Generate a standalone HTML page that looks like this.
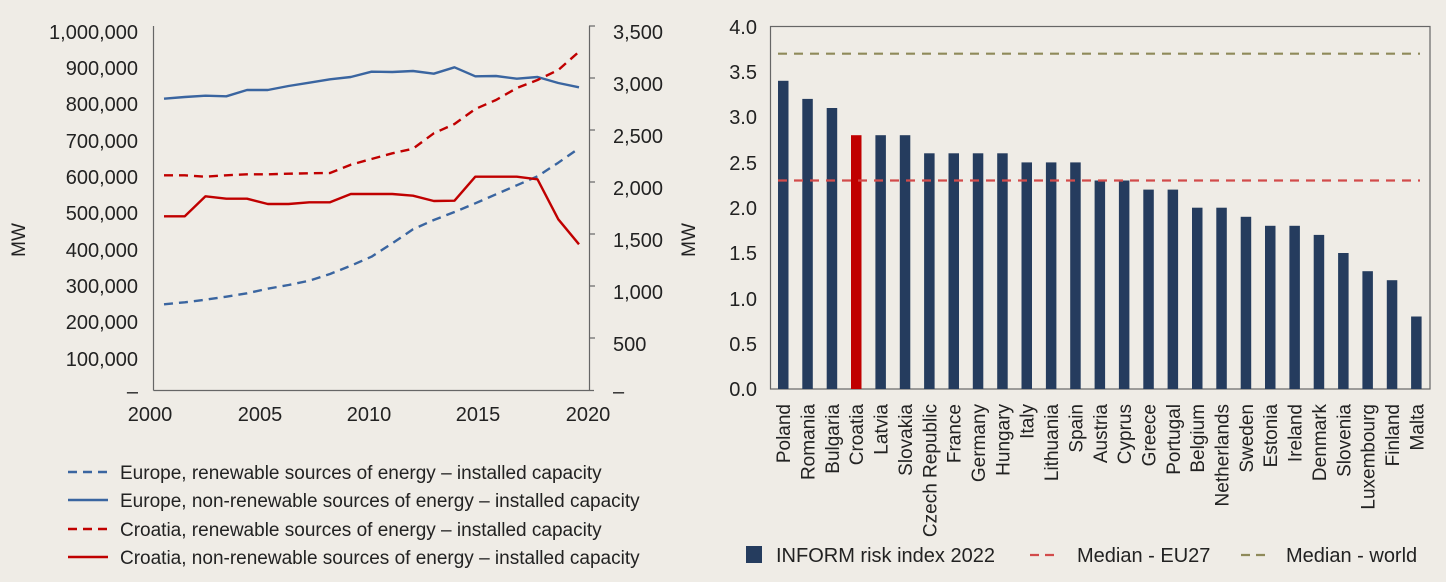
<!DOCTYPE html>
<html><head><meta charset="utf-8"><style>
html,body{margin:0;padding:0;background:#efece6;}
svg{display:block;font-family:"Liberation Sans Narrow","Liberation Sans",sans-serif;}
</style></head><body>
<svg width="1446" height="582" viewBox="0 0 1446 582" xmlns="http://www.w3.org/2000/svg">
<rect width="1446" height="582" fill="#efece6"/>
<!-- LEFT CHART -->
<g stroke="#666" stroke-width="1.2" fill="none">
<line x1="153.5" y1="26" x2="153.5" y2="390.5"/>
<line x1="153.5" y1="390.5" x2="594" y2="390.5"/>
<line x1="589.5" y1="26" x2="589.5" y2="390.5"/>
<line x1="589" y1="26" x2="595" y2="26"/><line x1="589" y1="78" x2="595" y2="78"/><line x1="589" y1="130" x2="595" y2="130"/><line x1="589" y1="182" x2="595" y2="182"/><line x1="589" y1="234" x2="595" y2="234"/><line x1="589" y1="286" x2="595" y2="286"/><line x1="589" y1="338" x2="595" y2="338"/>
</g>
<g font-size="20" fill="#222" text-anchor="end">
<text x="138" y="39">1,000,000</text><text x="138" y="75">900,000</text><text x="138" y="111">800,000</text><text x="138" y="148">700,000</text><text x="138" y="184">600,000</text><text x="138" y="220">500,000</text><text x="138" y="257">400,000</text><text x="138" y="293">300,000</text><text x="138" y="329">200,000</text><text x="138" y="366">100,000</text><text x="138" y="398">–</text>
</g>
<g font-size="20" fill="#222">
<text x="613" y="39">3,500</text><text x="613" y="91">3,000</text><text x="613" y="143">2,500</text><text x="613" y="195">2,000</text><text x="613" y="247">1,500</text><text x="613" y="299">1,000</text><text x="613" y="351">500</text><text x="613" y="398">–</text>
</g>
<g font-size="20" fill="#222" text-anchor="middle">
<text x="150" y="421">2000</text><text x="260" y="421">2005</text><text x="369" y="421">2010</text><text x="478" y="421">2015</text><text x="588" y="421">2020</text>
</g>
<text transform="translate(25,240) rotate(-90)" font-size="19" fill="#222" text-anchor="middle">MW</text>
<text transform="translate(695,240) rotate(-90)" font-size="19" fill="#222" text-anchor="middle">MW</text>
<g fill="none" stroke-width="2.4" stroke-linejoin="round">
<polyline stroke="#3a65a0" points="164,98.7 184.8,97 205.5,95.7 226.3,96.3 247,90 267.8,90 288.5,86 309.3,82.7 330,79.3 350.8,77 371.5,71.7 392.3,72 413,71 433.8,73.7 454.5,67.3 475.3,76.3 496,76 516.8,78.7 537.5,77 558.3,83 579,87.3"/>
<polyline stroke="#3a65a0" stroke-dasharray="9,6" points="164,304.3 184.8,302.3 205.5,299.7 226.3,296.7 247,293.3 267.8,288.7 288.5,285 309.3,280.7 330,274 350.8,265.7 371.5,256.7 392.3,243.3 413,229.3 433.8,220 454.5,212 475.3,203.3 496,194.3 516.8,185.3 537.5,176.3 558.3,162.7 579,148.3"/>
<polyline stroke="#c00000" points="164,216.3 184.8,216.3 205.5,196.3 226.3,198.7 247,198.7 267.8,204 288.5,204 309.3,202.3 330,202.3 350.8,194 371.5,194 392.3,194 413,195.7 433.8,201 454.5,200.7 475.3,176.7 496,176.7 516.8,176.7 537.5,179.3 558.3,219.3 579,244.3"/>
<polyline stroke="#c00000" stroke-dasharray="9,6" points="164,175.3 184.8,175.3 205.5,176.7 226.3,175.3 247,174.3 267.8,174.3 288.5,173.7 309.3,173.3 330,173 350.8,164.7 371.5,159 392.3,153.3 413,148.7 433.8,133.3 454.5,124 475.3,109 496,100 516.8,88 537.5,80 558.3,70 579,51.7"/>
</g>
<!-- left legend -->
<g stroke-width="2.4" fill="none">
<line x1="68" y1="472" x2="108" y2="472" stroke="#3a65a0" stroke-dasharray="9,6"/>
<line x1="68" y1="500" x2="108" y2="500" stroke="#3a65a0"/>
<line x1="68" y1="529" x2="108" y2="529" stroke="#c00000" stroke-dasharray="9,6"/>
<line x1="68" y1="557" x2="108" y2="557" stroke="#c00000"/>
</g>
<g font-size="19" fill="#222">
<text x="120" y="479">Europe, renewable sources of energy – installed capacity</text>
<text x="120" y="507">Europe, non-renewable sources of energy – installed capacity</text>
<text x="120" y="536">Croatia, renewable sources of energy – installed capacity</text>
<text x="120" y="564">Croatia, non-renewable sources of energy – installed capacity</text>
</g>
<!-- RIGHT CHART -->
<rect x="770.5" y="26.5" width="659.5" height="362.5" fill="none" stroke="#666" stroke-width="1.2"/>
<g font-size="20" fill="#222" text-anchor="end">
<text x="757" y="34">4.0</text><text x="757" y="79">3.5</text><text x="757" y="124">3.0</text><text x="757" y="170">2.5</text><text x="757" y="215">2.0</text><text x="757" y="260">1.5</text><text x="757" y="306">1.0</text><text x="757" y="351">0.5</text><text x="757" y="396">0.0</text>
</g>
<g fill="#253c5e">
<rect x="778" y="80.8" width="10.5" height="308.2"/>
<rect x="802.3" y="98.9" width="10.5" height="290.1"/>
<rect x="826.7" y="108" width="10.5" height="281"/>
<rect x="851" y="135.2" width="10.5" height="253.8" fill="#c00000"/>
<rect x="875.4" y="135.2" width="10.5" height="253.8"/>
<rect x="899.8" y="135.2" width="10.5" height="253.8"/>
<rect x="924.1" y="153.3" width="10.5" height="235.7"/>
<rect x="948.5" y="153.3" width="10.5" height="235.7"/>
<rect x="972.8" y="153.3" width="10.5" height="235.7"/>
<rect x="997.2" y="153.3" width="10.5" height="235.7"/>
<rect x="1021.5" y="162.4" width="10.5" height="226.6"/>
<rect x="1045.9" y="162.4" width="10.5" height="226.6"/>
<rect x="1070.2" y="162.4" width="10.5" height="226.6"/>
<rect x="1094.6" y="180.5" width="10.5" height="208.5"/>
<rect x="1118.9" y="180.5" width="10.5" height="208.5"/>
<rect x="1143.3" y="189.6" width="10.5" height="199.4"/>
<rect x="1167.6" y="189.6" width="10.5" height="199.4"/>
<rect x="1192" y="207.7" width="10.5" height="181.3"/>
<rect x="1216.3" y="207.7" width="10.5" height="181.3"/>
<rect x="1240.7" y="216.8" width="10.5" height="172.2"/>
<rect x="1265" y="225.8" width="10.5" height="163.2"/>
<rect x="1289.4" y="225.8" width="10.5" height="163.2"/>
<rect x="1313.7" y="234.9" width="10.5" height="154.1"/>
<rect x="1338.1" y="253" width="10.5" height="136"/>
<rect x="1362.4" y="271.2" width="10.5" height="117.8"/>
<rect x="1386.8" y="280.2" width="10.5" height="108.8"/>
<rect x="1411.1" y="316.5" width="10.5" height="72.5"/>
</g>
<line x1="778" y1="180.5" x2="1420" y2="180.5" stroke="#d24b4b" stroke-width="2.2" stroke-dasharray="9,7"/>
<line x1="778" y1="53.7" x2="1420" y2="53.7" stroke="#8f8a5a" stroke-width="2.2" stroke-dasharray="9,7"/>
<g font-size="19" fill="#222" text-anchor="end">
<text transform="translate(790,404) rotate(-90)">Poland</text>
<text transform="translate(814.5,404) rotate(-90)">Romania</text>
<text transform="translate(838.9,404) rotate(-90)">Bulgaria</text>
<text transform="translate(863.2,404) rotate(-90)">Croatia</text>
<text transform="translate(887.6,404) rotate(-90)">Latvia</text>
<text transform="translate(912,404) rotate(-90)">Slovakia</text>
<text transform="translate(936.3,404) rotate(-90)">Czech Republic</text>
<text transform="translate(960.7,404) rotate(-90)">France</text>
<text transform="translate(985,404) rotate(-90)">Germany</text>
<text transform="translate(1009.4,404) rotate(-90)">Hungary</text>
<text transform="translate(1033.7,404) rotate(-90)">Italy</text>
<text transform="translate(1058.1,404) rotate(-90)">Lithuania</text>
<text transform="translate(1082.4,404) rotate(-90)">Spain</text>
<text transform="translate(1106.8,404) rotate(-90)">Austria</text>
<text transform="translate(1131.1,404) rotate(-90)">Cyprus</text>
<text transform="translate(1155.5,404) rotate(-90)">Greece</text>
<text transform="translate(1179.8,404) rotate(-90)">Portugal</text>
<text transform="translate(1204.2,404) rotate(-90)">Belgium</text>
<text transform="translate(1228.5,404) rotate(-90)">Netherlands</text>
<text transform="translate(1252.9,404) rotate(-90)">Sweden</text>
<text transform="translate(1277.2,404) rotate(-90)">Estonia</text>
<text transform="translate(1301.6,404) rotate(-90)">Ireland</text>
<text transform="translate(1325.9,404) rotate(-90)">Denmark</text>
<text transform="translate(1350.3,404) rotate(-90)">Slovenia</text>
<text transform="translate(1374.6,404) rotate(-90)">Luxembourg</text>
<text transform="translate(1399,404) rotate(-90)">Finland</text>
<text transform="translate(1423.3,404) rotate(-90)">Malta</text>
</g>
<rect x="746" y="546" width="16" height="17" fill="#253c5e"/>
<line x1="1030" y1="555" x2="1060" y2="555" stroke="#d24b4b" stroke-width="2.2" stroke-dasharray="9,6"/>
<line x1="1241" y1="555" x2="1271" y2="555" stroke="#8f8a5a" stroke-width="2.2" stroke-dasharray="9,6"/>
<g font-size="20" fill="#222">
<text x="776" y="562">INFORM risk index 2022</text>
<text x="1077" y="562">Median - EU27</text>
<text x="1286" y="562">Median - world</text>
</g>
</svg>
</body></html>
